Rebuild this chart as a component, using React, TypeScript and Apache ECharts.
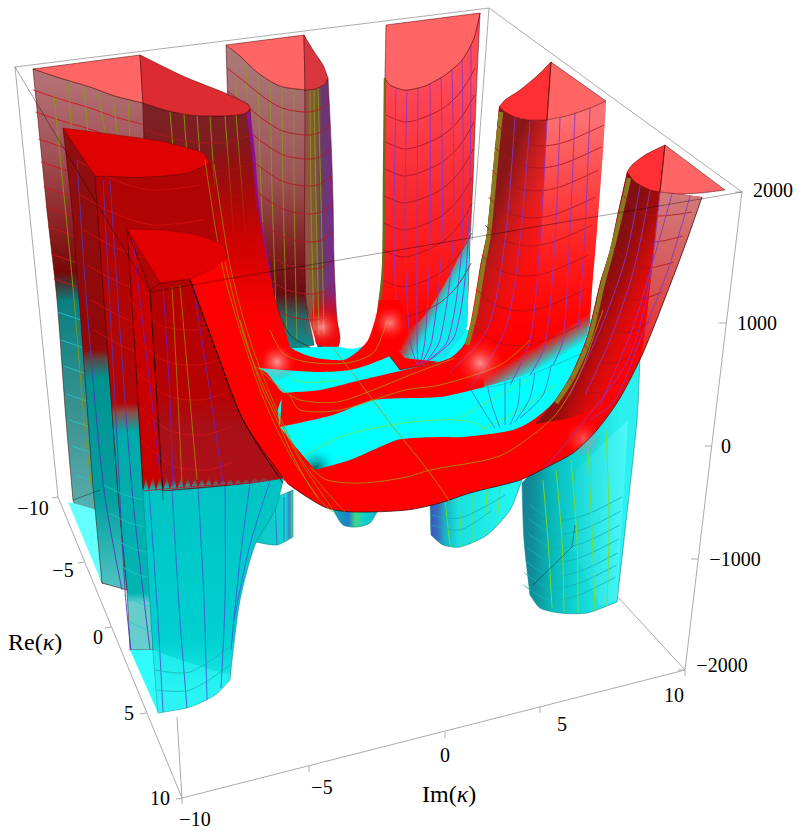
import React, { useEffect, useRef } from "react";
import * as echarts from "echarts";

type P = number[];
// ---- tick labels (text, picture x, picture y)
const zTicks: [string, number, number][] = [["2000",773,190],["1000",757,323],["0",726,446],["−1000",735,559],["−2000",722,665]];
const reTicks: [string, number, number][] = [["−10",33,508],["−5",63,570],["0",98,637],["5",129,713],["10",160,798]];
const imTicks: [string, number, number][] = [["−10",195,819],["−5",322,787],["0",445,755],["5",562,724],["10",674,695]];
// ---- box
const boxBack: P[][] = [[[15,67],[489,8]],[[489,8],[742,192]],[[15,67],[58,497]],[[58,497],[182,798]],[[182,798],[685,670]],[[685,670],[742,192]],[[489,8],[472,240]],[[685,670],[572,547]],[[177,717],[182,798]]];
const boxFront: P[][] = [[[15,67],[150,292]],[[150,292],[742,192]],[[150,292],[163,500]],[[73,500],[100,490]],[[572,547],[533,585]],[[572,547],[575,525]]];
const zTickMarks: P[] = [[742,192],[726,323],[712,446],[698,559],[685,670]];
const imTickMarks: P[] = [[182,798],[309,766],[445,732],[540,707],[685,670]];
const reTickMarks: P[] = [[58,497],[84,562],[111,627],[146,713],[182,798]];
// ---- pillar A (far left)
const capA1: P[] = [[33,69,1],[140,55,1],[143,103,1],[115,96],[90,87],[60,78]];
const capA2: P[] = [[140,55,1],[185,77],[225,93],[248,104,1],[250,109],[244,114],[220,116],[190,115],[165,110],[143,103,1]];
const wallA1: P[] = [[33,69,1],[60,78],[90,87],[115,96],[143,103,1],[148,300,1],[148,592,1],[125,588],[102,583,1],[73,500,1],[66,420],[57,300],[48,220],[40,140]];
const wallA2: P[] = [[143,103,1],[165,110],[190,115],[220,116],[244,114],[250,109,1],[257,200],[267,260],[277,307],[290,335],[313,349,1],[270,350],[200,340],[148,300,1]];
const edgeA2: P[] = [[248,112],[253,150],[257,200],[265,250],[272,293]];
const floorA: P[] = [[68,502,1],[73,503,1],[97,510,1],[100,545],[102,583,1]];
const arcA: P[] = [[33,90],[60,99],[90,108],[115,117],[146,125]];
const arcAOff = [0,22,49,72,97,117,137,164,189];
const arcACyanOff = [222,250,276,304,330,356,385,410];
// ---- pillar P2 (back)
const capP2L: P[] = [[226,45,1],[304,35,1],[305,90,1],[280,86],[258,73],[240,56]];
const capP2R: P[] = [[304,35,1],[313,50],[323,65],[328,78,1],[325,84],[315,89],[305,90,1]];
const wallP2L: P[] = [[226,45,1],[240,56],[258,73],[280,86],[305,90,1],[306,150],[307,240],[306,300],[314,345,1],[285,348],[260,320],[238,260],[230,160]];
const wallP2R: P[] = [[305,90,1],[315,89],[325,84],[328,78,1],[331,140],[333,200],[334,260],[337,320],[340,338],[338,347,1],[318,347,1],[306,300]];
const neckP2: P[] = [[314,290,1],[334,290,1],[337,320],[340,338],[338,347],[328,348],[316,344,1],[312,320]];
const arcP2: P[] = [[227,68],[245,82],[262,96],[282,108],[305,112],[318,110],[329,102]];
const arcP2Off = [0,23,47,74,102,130,157,182,208];
const vertP2: P[][] = [[[235,53],[240,180],[248,300]],[[246,63],[250,180],[258,320]],[[258,73],[261,190],[268,325]],[[270,81],[272,190],[277,335]],[[282,86],[283,190],[287,340]],[[294,89],[294,190],[297,343]]];
const vertP2R: P[][] = [[[310,90],[311,200],[314,330]],[[314,89],[316,200],[319,335]],[[318,88],[321,200],[324,335]]];
// ---- centre pillar P3
const capP3: P[] = [[386,25,1],[480,13,1],[474,38],[462,60],[445,75],[425,86],[405,90],[390,85],[385,78,1]];
const wallP3: P[] = [[385,78,1],[390,85],[405,90],[425,86],[445,75],[462,60],[474,38],[480,13,1],[476,100],[473,180],[470,240],[468,293],[465,330,1],[440,360],[400,370,1],[377,335],[383,267],[384,180]];
const cyanP3: P[] = [[474,222,1],[470,240],[468,293],[466,330],[440,362,1],[405,358,1],[392,345,1],[425,315],[447,280],[462,250]];
const stripP3: P[] = [[385,78],[384,180],[383,267],[377,330]];
const arcP3: P[] = [[386,115],[405,122],[425,117],[445,107],[462,90],[475,68]];
const arcP3Off = [0,27,54,81,108,135,165,195];
const vertP3: P[][] = [[[407,90],[405,240],[410,340],[417,365]],[[418,88],[417,240],[417,340],[418,365]],[[430,84],[430,240],[425,340],[420,365]],[[441,77],[442,240],[432,340],[421,365]],[[452,70],[453,240],[440,340],[423,365]],[[462,60],[462,240],[448,340],[426,362]],[[471,45],[468,240],[455,335],[430,360]],[[396,88],[394,240],[397,320]]];
// ---- floor of the trough
const floorC: P[] = [[250,350,1],[320,347,1],[340,347],[352,349],[365,345],[378,330,1],[470,330,1],[590,318,1],[612,385,1],[540,450,1],[400,480,1],[300,480,1],[270,420,1]];
const shadeCyan: P[] = [[300,450],[338,450],[338,476],[315,471,1]];
const fanCyan: P[][] = [[[303,457],[340,437],[390,425],[440,420],[475,423],[495,438]],[[285,372],[300,382],[340,380]],[[455,420],[500,395],[530,378]],[[480,430],[520,410],[555,385]]];
const fanBlue: P[][] = [[[470,388],[480,405],[495,428]],[[487,384],[492,405],[500,428]],[[505,380],[505,405],[505,425]],[[520,375],[518,405],[510,425]],[[535,370],[530,398],[515,422]],[[552,360],[543,395],[520,418]]];
// ---- lower cups
const cupRight: P[] = [[522,483,1],[640,357,1],[637,420],[617,602,1],[587,613],[560,613],[540,608],[530,595,1],[524,540]];
const cupRightGlow: P[] = [[576,470,1],[628,420,1],[617,600,1],[600,606,1],[572,548,1]];
const arcRight: P[] = [[530,505],[555,520],[585,515],[622,497]];
const arcRightOff = [0,14,28,42,56,68,80];
const vertRight: P[][] = [[[543,480],[548,540],[552,608]],[[556,470],[562,540],[564,612]],[[571,460],[577,540],[578,613]],[[588,450],[592,530],[595,612]],[[606,430],[609,520],[607,606]]];
const cup2: P[] = [[430,500,1],[522,480,1],[510,510],[487,535],[460,547],[443,545],[431,535,1]];
const cup3: P[] = [[333,510,1],[378,510,1],[370,523],[357,527],[343,525]];
const cup4: P[] = [[258,505,1],[293,490,1],[293,537,1],[277,545],[255,542,1],[258,517]];
const vertCup2: P[][] = [[[445,500],[450,546]],[[459,498],[462,547]],[[473,495],[473,543]],[[487,490],[485,535]],[[500,487],[497,525]]];
const arcCup2: P[][] = [[[432,525],[460,530],[492,510]],[[431,515],[460,518],[505,495]]];
// ---- red bands and flows
const band1: P[] = [[277,310,1],[280,330],[290,347],[312,357],[343,360],[357,352],[368,340],[375,320],[380,300,1],[400,300,1],[405,330],[400,350],[373,363],[350,370],[320,372],[283,370],[260,368,1]];
const wallP4: P[] = [[499,107,1],[515,117],[530,120],[547,120],[570,115],[590,108],[606,101,1],[603,150],[597,230],[592,290],[590,322,1],[583,343],[530,373],[480,388],[440,397],[373,400],[333,415],[280,427,1],[282,393,1],[320,390],[357,381],[417,367],[450,358],[465,343],[472,315],[480,267],[487,233],[495,150]];
const darkP4: P[] = [[499,107,1],[515,117],[530,120],[547,120,1],[541,240],[520,295],[474,340,1],[475,315],[480,267],[487,233],[495,150]];
const lightP4: P[] = [[547,120,1],[570,115],[590,108],[606,101,1],[603,150],[597,230],[592,290],[590,322,1],[536,330,1],[541,240]];
const fadeP4: P[] = [[590,296,1],[592,322],[583,345],[530,375],[484,388,1],[484,372,1],[530,350],[575,315]];
const olive4: P[] = [[501,112],[497,150],[489,233],[483,267],[475,315],[467,345]];
const capP4L: P[] = [[551,62,1],[538,75],[520,90],[505,100],[499,107,1],[505,112],[515,117],[530,120],[547,120,1]];
const capP4R: P[] = [[551,62,1],[606,101,1],[590,108],[570,115],[547,120,1]];
const arcP4: P[] = [[497,125],[515,140],[540,146],[565,142],[604,125]];
const arcP4Off = [0,22,45,72,100,130,165,200];
const vertP4: P[][] = [[[515,117],[505,240],[487,330],[450,372]],[[530,120],[520,240],[505,330],[470,388]],[[547,120],[540,240],[530,340],[510,385]],[[560,118],[555,240],[545,345],[530,375]],[[575,113],[570,230],[563,340],[553,365]],[[590,108],[585,230],[578,330]]];
const bandFront: P[] = [[190,279,1],[227,257,1],[235,290],[250,340],[265,390],[280,428],[298,450],[315,470,1],[350,460],[373,450],[397,440],[413,438],[440,437],[463,437],[513,430],[533,420],[553,403],[570,377],[587,337],[600,283],[610,250],[617,217],[627,172,1],[660,192],[680,194],[702,197,1],[687,240],[667,293],[643,353],[620,398],[597,430],[573,453],[547,467],[520,480],[470,493],[440,503],[407,510],[353,512],[327,508],[307,497],[287,483],[267,460],[250,437],[240,420],[217,353]];
const bandLower: P[] = [[702,197],[687,240],[667,293],[643,353],[620,398],[597,430],[573,453],[547,467],[520,480],[470,493],[440,503],[407,510],[353,512],[327,508],[307,497],[287,483]];
const darkP5: P[] = [[627,172,1],[635,182],[650,190],[660,192,1],[645,353,1],[625,385],[600,405],[570,418],[535,424,1],[553,403],[570,377],[587,337],[600,283],[610,250],[617,217]];
const lightP5: P[] = [[660,192,1],[680,194],[702,197,1],[687,240],[667,293],[643,353],[632,375,1],[642,353]];
const olive5: P[] = [[629,178],[620,217],[612,250],[603,283],[590,337],[573,377],[556,403]];
const capP5L: P[] = [[665,145,1],[645,155],[632,165],[627,172,1],[635,182],[650,190],[660,192,1]];
const capP5R: P[] = [[665,145,1],[725,190,1],[700,193],[680,194],[660,192,1]];
const arcsP5: P[][] = [[[623,195],[640,212],[660,216],[692,212]],[[620,220],[638,238],[655,242],[683,236]],[[614,248],[630,264],[648,268],[674,262]],[[606,280],[620,296],[638,300],[662,292]],[[596,312],[612,330],[630,332],[650,322]],[[585,345],[600,362],[618,362],[636,352]],[[570,378],[585,392],[602,392],[618,382]]];
const vertP5: P[][] = [[[640,186],[625,260],[600,330],[570,395]],[[650,190],[635,265],[612,335],[585,395]],[[672,194],[652,265],[632,330],[600,405]],[[690,196],[668,270],[640,340],[615,400],[590,420]],[[660,192],[648,290],[628,360],[585,420],[545,468]]];
// ---- left mass of red
const massLeft: P[] = [[208,165,1],[250,120,1],[257,200],[267,260],[277,307],[285,330],[290,347,1],[270,362],[258,368,1],[267,373],[280,390],[284,393,1],[278,410],[280,427,1],[298,450],[315,470,1],[300,490,1],[240,420],[217,353],[190,279,1],[224,262,1],[216,217]];
// ---- pillar B
const capB: P[] = [[63,128,1],[95,176,1],[147,177],[187,173],[210,163,1],[203,153],[187,148],[160,141]];
const wallBL: P[] = [[63,128,1],[95,176,1],[118,493,1],[127,590,1],[102,583,1],[93,487,1],[73,220]];
const wallBR: P[] = [[95,176,1],[147,177],[187,173],[210,163,1],[220,217],[230,267],[240,340,1],[150,430,1],[153,650,1],[130,650,1],[127,590,1],[118,493,1]];
const floorB: P[] = [[130,650,1],[153,650,1],[158,713,1]];
// ---- pillar C
const capC: P[] = [[127,229,1],[160,283,1],[190,279,1],[210,270],[227,257,1],[223,245],[197,235],[160,230]];
const wallCL: P[] = [[127,229,1],[150,290,1],[163,490,1],[143,490,1],[135,350]];
const wallCR: P[] = [[150,290,1],[160,283,1],[190,279,1],[217,353],[243,420],[283,478,1],[250,483],[200,488],[163,491,1]];
const lowerC: P[] = [[143,490,1],[200,486],[250,483],[284,477,1],[275,510],[255,545],[240,600],[232,660],[230,680,1],[215,695],[190,707],[158,713,1],[153,650]];
const saw: P[] = [[143,492,1],[146,477,1],[149,491,1],[153,476,1],[156,491,1],[160,476,1],[163,491,1],[167,477,1],[170,490,1],[174,477,1],[177,490,1],[181,477,1],[184,489,1],[188,478,1],[191,488,1],[195,478,1],[198,488,1],[202,478,1],[205,487,1],[209,478,1],[212,487,1],[216,479,1],[219,486,1],[223,479,1],[226,485,1],[230,479,1],[234,485,1],[238,479,1],[242,484,1],[246,479,1],[250,483,1],[255,478,1],[259,482,1],[264,477,1],[270,481,1]];
const glowC: P[] = [[153,650,1],[190,663],[230,675,1],[230,680],[215,695],[190,707],[158,713,1]];
const arcCRed: P[] = [[130,300],[160,325],[195,330],[222,322]];
const arcCOff = [0,35,70,105,140];
const edgeC: P[] = [[190,280],[217,353],[243,420],[283,483]];
const sawEdge: P[] = [[143,491],[200,486],[250,483],[283,478]];
const vertC: P[][] = [[[133,240],[147,360],[160,473]],[[163,287],[170,400],[173,487]],[[193,283],[208,380],[223,483]]];
const oliveC: P[][] = [[[172,287],[178,400],[182,483]],[[180,285],[190,400],[197,480]],[[225,262],[245,340],[270,400],[300,460],[333,510]],[[214,164],[230,265],[250,340],[277,410],[305,465],[345,512]],[[205,160],[222,265],[240,330],[262,395],[290,455],[318,497]]];
const oliveBands: P[][] = [[[240,320],[260,383],[277,420],[295,460],[317,497],[333,512]],[[270,330],[283,353],[307,362],[347,363],[373,353],[383,333],[387,320]],[[257,367],[283,390],[300,400],[337,402],[373,390],[410,375],[455,358]],[[290,395],[300,410],[340,410],[405,390],[440,385],[500,365],[530,340]],[[310,467],[327,480],[363,483],[407,477],[430,470],[497,457],[530,437],[557,413],[580,373],[597,327],[603,310]],[[333,348],[373,400],[390,423],[430,473],[452,505]]];
const vertBigC: P[][] = [[[149,490],[158,620],[163,712]],[[172,490],[180,620],[187,708]],[[198,486],[204,600],[207,700]],[[225,484],[225,600],[221,688]],[[250,483],[240,560],[231,650]],[[270,481],[250,545],[234,620]]];
const arcBigC: P[][] = [[[156,690],[190,690],[230,665]],[[155,670],[190,672],[232,645]]];
const vertB: P[][] = [[[77,160],[88,320],[104,490],[122,590]],[[110,180],[120,330],[133,500],[150,650]],[[103,180],[115,400],[125,590],[131,650]]];
const arcBCyan: P[] = [[104,485],[125,495],[145,500]];
const arcBOff = [0,28,54,80,110,136];
// ---- highlights
const glowA: P[] = [[256,340],[298,340],[298,384],[256,384]];
const glowB: P[] = [[305,306],[338,306],[338,348],[305,348]];
const glowD: P[] = [[370,302],[410,302],[410,344],[370,344]];
const glowE: P[] = [[456,334],[504,334],[504,392],[456,392]];
const glowF: P[] = [[563,420],[603,420],[603,458],[563,458]];

type Fill = string | { g: number[]; s: [number, string][] } | { r: number[]; s: [number, string][] };
interface It { p: P[]; fill?: Fill; stroke?: string; w?: number; sm?: number; }
const EDGE = "rgba(80,0,0,0.75)";
const lin = (x1: number, y1: number, x2: number, y2: number, s: [number, string][]): Fill => ({ g: [x1, y1, x2, y2], s });
const rad = (x: number, y: number, r: number, s: [number, string][]): Fill => ({ r: [x, y, r], s });
const shift = (a: P[], dx: number, dy: number): P[] => a.map((q) => [q[0] + dx, q[1] + dy]);

const items: It[] = [];
const poly = (p: P[], fill: Fill, stroke?: string, w = 0.7, sm = 0.25) => items.push({ p, fill, stroke, w, sm });
const line = (p: P[], stroke: string, w = 0.8) => items.push({ p, stroke, w, sm: p.length > 2 ? 0.3 : 0 });
const lines = (ls: P[][], stroke: string, w = 0.8) => ls.forEach((l) => line(l, stroke, w));

const GREY = "#ababab";
const PURPLE = "#8a35c8";
const OLIVE = "#86980e";
const CYL = "#12b4b4";
const BLUE = "#4660d0";

lines(boxBack, GREY, 1);
zTickMarks.forEach((t) => line([t, [t[0] - 7, t[1]]], GREY, 1));
imTickMarks.forEach((t) => line([t, [t[0], t[1] + 6]], GREY, 1));
reTickMarks.forEach((t) => line([t, [t[0] - 6, t[1] + 1]], GREY, 1));

// back pillar P2
poly(wallP2L, lin(0, 45, 0, 345, [[0, "#ae7b7f"], [0.45, "#9c5254"], [0.7, "#7e1c1e"], [0.83, "#6a0d10"], [0.9, "#2f5f60"], [1, "#0c8f8f"]]), EDGE);
poly(wallP2R, lin(305, 0, 334, 0, [[0, "#96504a"], [0.35, "#7d5a30"], [0.6, "#6a3a6a"], [1, "#7a2a90"]]), EDGE);
poly(neckP2, lin(0, 285, 0, 320, [[0, "rgba(215,0,10,0)"], [1, "#ee0a0a"]]));
lines(vertP2, "#8f9a1c", 0.8);
lines(vertP2R, "#8d9a18", 0.9);
arcP2Off.forEach((d) => line(shift(arcP2, d * 0.03, d), "#b11a20", 0.9));
poly(capP2L, "#ff6565", EDGE);
poly(capP2R, "#d7363e", EDGE);

// far-left pillar A
poly(wallA1, lin(0, 69, 0, 590, [[0, "#b5757a"], [0.16, "#a25357"], [0.29, "#8c2426"], [0.39, "#780808"], [0.415, "#3f3a3a"], [0.445, "#0a7f7f"], [0.68, "#3f9494"], [0.83, "#58abab"], [1, "#5cc0c0"]]), EDGE);
poly(floorA, "#66ffff");
arcAOff.forEach((d) => line(shift(arcA, d * 0.11, d), "#d01418", 0.9));
arcACyanOff.forEach((d) => line(shift(arcA, d * 0.11, d).slice(0, 3), "#22c6c6", 0.9));
line([[53, 87], [72, 277], [85, 430], [92, 490]], OLIVE, 0.9);
line([[68, 82], [80, 240], [96, 430]], OLIVE, 0.9);
line([[84, 88], [92, 180]], OLIVE, 0.9);
line([[98, 93], [105, 132]], OLIVE, 0.9);
line([[113, 97], [118, 140]], OLIVE, 0.9);
line([[128, 101], [130, 140]], OLIVE, 0.9);
poly(wallA2, lin(0, 105, 0, 350, [[0, "#7a2226"], [0.45, "#8a0f10"], [0.78, "#7c1010"], [0.88, "#24706e"], [1, "#0f8a88"]]), EDGE);
line([[170, 112], [180, 230]], OLIVE, 0.9);
line([[184, 114], [192, 230]], OLIVE, 0.9);
line([[197, 115], [205, 230]], OLIVE, 0.9);
line([[210, 116], [218, 240]], OLIVE, 0.9);
line([[225, 116], [235, 250]], OLIVE, 0.9);
line([[236, 115], [246, 240]], OLIVE, 0.9);
line(edgeA2, "#8a10a0", 3.5);
[0, 28, 55, 82, 110].forEach((d) => line(shift([[146, 130], [180, 140], [220, 143], [252, 135]], d * 0.1, d), "#b81418", 0.8));
poly(capA1, "#ff6565", EDGE);
poly(capA2, "#dc2c32", EDGE);

// trough floor and lower cups
poly(cupRight, lin(522, 0, 620, 0, [[0, "#177f96"], [0.12, "#0f8f98"], [0.3, "#08b8b8"], [0.55, "#10d4d4"], [1, "#2cf0f0"]]), "#0a8a8a", 0.6);
poly(cupRightGlow, lin(570, 0, 630, 0, [[0, "rgba(42,220,220,0.2)"], [1, "#50fafa"]]));
arcRightOff.forEach((d) => line(shift(arcRight, -d * 0.08, d), CYL, 0.9));
lines(vertRight, "#7ee020", 0.9);
poly(cup2, lin(430, 0, 510, 0, [[0, "#3a58c0"], [0.1, "#3a6cc0"], [0.18, "#18b0c0"], [0.35, "#18e0e0"], [1, "#24f4f0"]]), "#0a8a8a", 0.6);
lines(vertCup2, "#7ee020", 0.8);
lines(arcCup2, CYL, 0.8);
poly(cup3, lin(333, 0, 378, 0, [[0, "#10a8b8"], [0.35, "#2080c8"], [0.5, "#40d880"], [0.7, "#10d0d0"], [1, "#10b8c0"]]), "#0a8a8a", 0.6);
poly(cup4, lin(255, 0, 293, 0, [[0, "#10c4c4"], [0.82, "#10d4d4"], [0.9, "#3a80d0"], [1, "#50e070"]]), "#0a8a8a", 0.6);
line([[275, 500], [277, 545]], BLUE, 0.8);
line([[284, 497], [284, 541]], BLUE, 0.8);
poly(floorC, "#00ffff");
poly(shadeCyan, rad(316, 468, 22, [[0, "rgba(0,70,70,0.85)"], [0.5, "rgba(0,170,170,0.5)"], [1, "rgba(0,255,255,0)"]]));
lines(fanCyan, "#6fe44a", 0.8);
lines(fanBlue, BLUE, 0.8);
line([[440, 390], [500, 385], [590, 350]], "#14b8b8", 0.8);

// centre pillar
poly(wallP3, lin(0, 80, 0, 330, [[0, "#ff4a58"], [0.5, "#f8262c"], [0.8, "#ff1212"], [1, "#ff0000"]]), EDGE);
poly(cyanP3, lin(428, 294, 450, 306, [[0, "rgba(0,230,240,0)"], [0.7, "#10e4ea"], [1, "#10e8ee"]]));
line(stripP3, "#6e6a18", 2.5);
arcP3Off.forEach((d) => line(shift(arcP3, -d * 0.02, d), "#a61220", 0.8));
lines(vertP3, PURPLE, 0.9);
poly(capP3, "#ff6565", EDGE);

// red bands
poly(band1, "#ff0000");
poly(wallP4, lin(0, 107, 0, 340, [[0, "#f24048"], [0.6, "#ff1414"], [1, "#ff0000"]]));
poly(darkP4, lin(485, 230, 540, 250, [[0, "rgba(130,22,22,0.95)"], [0.25, "rgba(175,24,24,0.9)"], [1, "rgba(225,20,20,0)"]]));
poly(lightP4, lin(0, 120, 0, 320, [[0, "rgba(255,130,130,0.75)"], [1, "rgba(255,40,40,0)"]]));
poly(fadeP4, lin(548, 338, 560, 358, [[0, "rgba(0,255,255,0)"], [1, "#00ffff"]]));
line(olive4, "#8a7a20", 4.5);
arcP4Off.forEach((d) => line(shift(arcP4, -d * 0.12, d), "#a81420", 0.8));
lines(vertP4, PURPLE, 0.9);
poly(capP4L, "#ff2f33", EDGE);
poly(capP4R, "#ff6565", EDGE);
line([[551, 62], [547, 120]], EDGE, 0.7);

// left red mass and pillar B
poly(wallBL, lin(0, 128, 0, 590, [[0, "#8e0f10"], [0.48, "#930808"], [0.5, "#5f4545"], [0.54, "#00928f"], [0.8, "#00a0a0"], [1, "#52c4c4"]]), EDGE);
poly(wallBR, lin(0, 176, 0, 650, [[0, "#b00404"], [0.48, "#b40606"], [0.5, "#8a5050"], [0.54, "#00aaaa"], [0.88, "#00b4b4"], [0.9, "#66cccc"], [1, "#66cfcf"]]), EDGE);
poly(massLeft, lin(0, 130, 0, 320, [[0, "rgba(150,10,10,0)"], [0.25, "rgba(170,8,8,0.6)"], [0.55, "rgba(205,2,2,0.95)"], [1, "#ff0000"]]));
lines(vertB, "#5038b8", 0.9);
arcBOff.forEach((d) => line(shift(arcBCyan, d * 0.18, d), "#22c8c8", 0.8));
[0, 35, 70, 105, 140, 170].forEach((d) => line(shift([[77, 160], [110, 178], [150, 190], [200, 185]], d * 0.1, d), "#d81010", 0.8));
poly(capB, "#df0202", "rgba(110,0,0,0.55)");
poly(floorB, "#30fcfc");

// front band and right pillar
poly(bandFront, "#ff0000");
poly(darkP5, lin(600, 283, 650, 305, [[0, "rgba(130,16,16,1)"], [0.35, "rgba(160,12,12,0.95)"], [0.8, "rgba(200,20,20,0.5)"], [1, "rgba(220,20,20,0)"]]));
poly(lightP5, lin(0, 195, 0, 375, [[0, "#d27a7a"], [0.5, "#d85454"], [1, "#f01818"]]));
line(olive5, "#8a7a20", 4.5);
poly(glowF, rad(583, 439, 18, [[0, "rgba(255,150,150,0.55)"], [1, "rgba(255,60,60,0)"]]));
lines(arcsP5, "#a81420", 0.8);
lines(vertP5, PURPLE, 0.9);
poly(capP5L, "#ff2f33", EDGE);
poly(capP5R, "#ff6565", EDGE);
line([[665, 145], [660, 192]], EDGE, 0.7);
line(bandLower, "rgba(40,0,0,0.75)", 0.9);
lines(oliveBands, "#a39a00", 0.8);
poly(glowA, rad(277, 362, 20, [[0, "rgba(255,215,215,0.7)"], [0.5, "rgba(255,120,120,0.35)"], [1, "rgba(255,0,0,0)"]]));
poly(glowB, rad(322, 327, 19, [[0, "rgba(255,215,215,0.65)"], [0.5, "rgba(255,120,120,0.3)"], [1, "rgba(255,0,0,0)"]]));
poly(glowD, rad(390, 323, 19, [[0, "rgba(255,215,215,0.6)"], [0.5, "rgba(255,120,120,0.3)"], [1, "rgba(255,0,0,0)"]]));
poly(glowE, rad(480, 363, 25, [[0, "rgba(255,205,205,0.7)"], [0.5, "rgba(255,120,120,0.3)"], [1, "rgba(255,40,40,0)"]]));

// front pillar C
poly(lowerC, lin(0, 490, 0, 700, [[0, "#00c4c4"], [0.7, "#00d0d0"], [0.85, "#10e0e0"], [1, "#28eeee"]]), "#0a8a8a", 0.6);
poly(glowC, "rgba(50,250,250,0.55)");
lines(vertBigC, "#4458d4", 0.9);
lines(arcBigC, "#10b4b4", 0.8);
poly(wallCL, "#c90000", "rgba(30,0,0,0.8)", 0.8);
poly(wallCR, lin(0, 280, 0, 490, [[0, "#b40000"], [0.55, "#b60202"], [0.7, "#a81018"], [1, "#b01018"]]), "rgba(30,0,0,0.7)", 0.7);
poly(saw, lin(0, 477, 0, 490, [[0, "rgba(0,200,200,0)"], [1, "#00c4c4"]]));
arcCOff.forEach((d) => line(shift(arcCRed, d * 0.08, d), "rgba(232,24,24,0.7)", 0.8));
lines(vertC, "#6a20c0", 0.9);
lines(oliveC, "#a08a00", 0.8);
line(edgeC, "rgba(20,0,0,0.85)", 1);
line(sawEdge, "#c01830", 0.9);
poly(capC, "#e30000", "rgba(110,0,0,0.55)");
lines(boxFront, "rgba(0,0,0,0.36)", 1);

const WIDTH = 802, HEIGHT = 840;
const SERIF = '"Liberation Serif", "Times New Roman", serif';

export default function App() {
  const ref = useRef<HTMLDivElement>(null);
  useEffect(() => {
    document.body.style.margin = "0";
    const chart = echarts.init(ref.current!, undefined, { renderer: "svg" });
    const toFill = (f?: Fill) => {
      if (!f) return "none";
      if (typeof f === "string") return f;
      const st = f.s.map(([offset, color]) => ({ offset, color }));
      if ("g" in f) return new echarts.graphic.LinearGradient(f.g[0], f.g[1], f.g[2], f.g[3], st, true);
      return new echarts.graphic.RadialGradient(f.r[0], f.r[1], f.r[2], st, true);
    };
    const texts: [string, number, number][] = [...zTicks, ...reTicks, ...imTicks];
    chart.setOption({
      animation: false,
      grid: { left: 0, right: 0, top: 0, bottom: 0 },
      xAxis: { type: "value", min: 0, max: WIDTH, show: false },
      yAxis: { type: "value", min: 0, max: HEIGHT, inverse: true, show: false },
      series: [
        {
          type: "custom",
          clip: false,
          silent: true,
          coordinateSystem: "cartesian2d",
          encode: { x: 0, y: 1 },
          data: items.map((_, i) => [i, 0]),
          renderItem: (params: any, api: any) => {
            const it = items[params.dataIndex];
            const pts: number[][] = [];
            it.p.forEach((q) => {
              const c = api.coord([q[0], q[1]]);
              pts.push(c);
              if (q[2]) pts.push([c[0], c[1]]);
            });
            const closed = !!it.fill;
            return {
              type: closed ? "polygon" : "polyline",
              shape: { points: pts, smooth: it.sm || 0 },
              style: {
                fill: closed ? toFill(it.fill) : "none",
                stroke: it.stroke || "none",
                lineWidth: it.w || 0,
                lineJoin: "round",
              },
            };
          },
        },
        {
          type: "custom",
          clip: false,
          silent: true,
          coordinateSystem: "cartesian2d",
          encode: { x: 0, y: 1 },
          data: texts.map((t) => [t[1], t[2]]),
          renderItem: (params: any, api: any) => {
            const t = texts[params.dataIndex];
            const c = api.coord([t[1], t[2]]);
            return {
              type: "text",
              x: c[0],
              y: c[1],
              style: { text: t[0], fill: "#000", font: `20px ${SERIF}`, align: "center", verticalAlign: "middle" },
            };
          },
        },
      ],
      graphic: [
        { type: "text", left: 8, top: 630, style: { text: "{a|Re(}{k|κ}{a|)}", rich: { a: { font: `24px ${SERIF}`, fill: "#000" }, k: { font: `italic 24px ${SERIF}`, fill: "#000" } } } },
        { type: "text", left: 422, top: 782, style: { text: "{a|Im(}{k|κ}{a|)}", rich: { a: { font: `24px ${SERIF}`, fill: "#000" }, k: { font: `italic 24px ${SERIF}`, fill: "#000" } } } },
      ],
    });
    return () => chart.dispose();
  }, []);
  return <div ref={ref} style={{ position: "absolute", left: 0, top: 0, width: WIDTH, height: HEIGHT, background: "#fff" }} />;
}
